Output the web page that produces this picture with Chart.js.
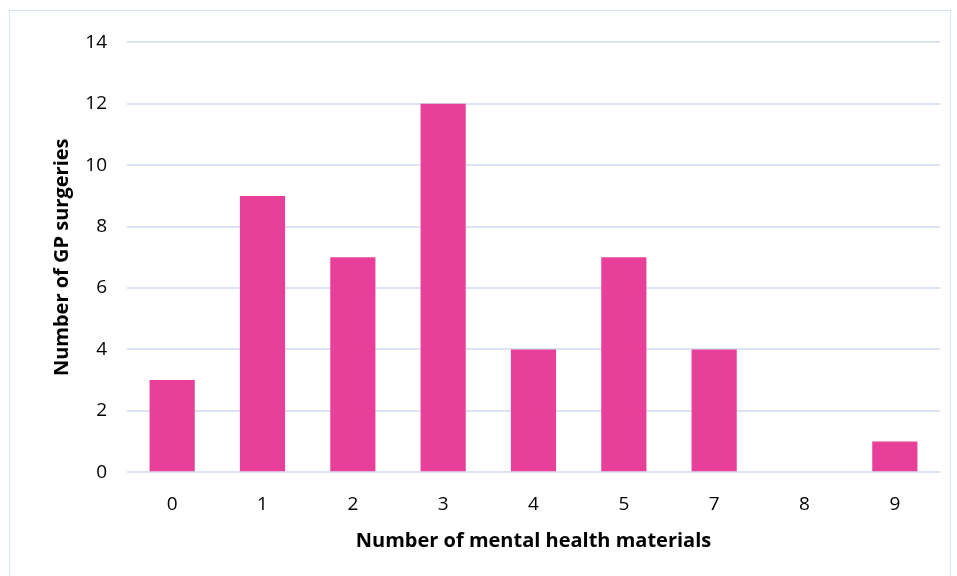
<!DOCTYPE html>
<html>
<head>
<meta charset="utf-8">
<script src="https://cdn.jsdelivr.net/npm/chart.js@4"></script>
<style>
  body { margin: 0; background: #fff; }
  #frame {
    position: absolute; left: 9px; top: 10px;
    width: 942px; height: 570px;
    border: 1px solid #d6e3f3; box-sizing: border-box;
  }
</style>
</head>
<body>
<div id="frame"><canvas id="chart" width="940" height="568"></canvas></div>
<script>
// Survey data: materials count vs GP surgeries
const categories = ["0", "1", "2", "3", "4", "5", "7", "8", "9"];
const surgeries = [3, 9, 7, 12, 4, 7, 4, 0, 1];

const pink = "#e8409a";
const gridBlue = "#d9e3f1";
const font = "'Open Sans', 'Liberation Sans', sans-serif";

new Chart(document.getElementById("chart"), {
  type: "bar",
  data: {
    labels: categories,
    datasets: [{
      label: "Number of GP surgeries",
      data: surgeries,
      backgroundColor: pink,
      borderWidth: 0,
      barPercentage: 0.5,
      categoryPercentage: 1
    }]
  },
  options: {
    responsive: false,
    animation: false,
    layout: { padding: { top: 16, right: 10, left: 36, bottom: 22 } },
    plugins: {
      legend: { display: false },
      tooltip: { enabled: false }
    },
    scales: {
      x: {
        grid: { display: false },
        border: { display: false },
        ticks: { color: "#000", font: { family: font, size: 19 }, padding: 13 },
        title: {
          display: true,
          text: "Number of mental health materials",
          color: "#000",
          font: { family: font, size: 20, weight: "bold" },
          padding: { top: 0 }
        }
      },
      y: {
        min: 0,
        max: 14,
        ticks: { stepSize: 2, color: "#000", font: { family: font, size: 19 }, padding: 20 },
        grid: { color: gridBlue, lineWidth: 2, drawTicks: false },
        border: { display: false },
        title: {
          display: true,
          text: "Number of GP surgeries",
          color: "#000",
          font: { family: font, size: 20, weight: "bold" },
          padding: { bottom: 8 }
        },
        afterFit: s => { s.width = 81; }
      }
    }
  }
});
</script>
</body>
</html>
